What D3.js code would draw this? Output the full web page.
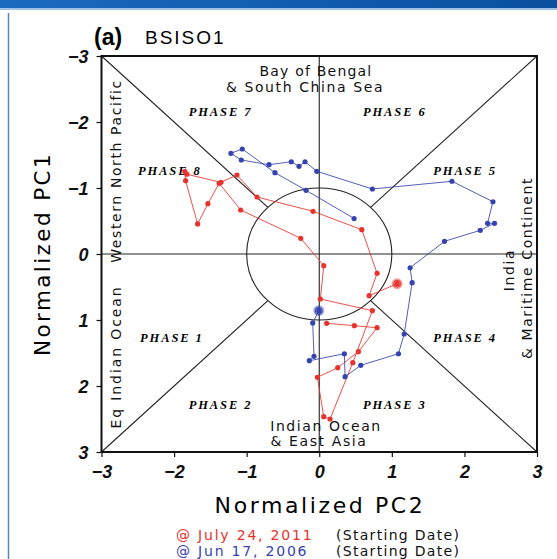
<!DOCTYPE html>
<html><head><meta charset="utf-8">
<script src="https://cdn.jsdelivr.net/npm/d3@7"></script>
<style>
html,body{margin:0;padding:0;background:#fff;overflow:hidden}
svg{display:block}
</style></head>
<body>
<svg id="c" width="557" height="559"></svg>
<script>
// ---- data ----
const tickValues = [-3,-2,-1,0,1,2,3];
// July 24, 2011 trajectory (PC2, PC1)
const redPC2 = [1.073,0.687,0.797,0.586,-0.086,-0.858,-1.134,-1.354,-1.823,-1.851,-1.841,-1.676,-1.534,-1.379,-1.083,-0.255,0.062,0.015,0.732,0.462,0.149,0.062,-0.026,0.255,0.539,0.797,0.484,0.103];
const redPC1 = [0.45,0.632,0.292,-0.368,-0.647,-0.864,-1.197,-1.086,-1.208,-1.247,-1.111,-0.455,-0.762,-1.071,-0.667,-0.238,0.177,0.682,0.859,1.647,2.5,2.465,1.868,1.723,1.48,1.117,1.086,1.05];
// Jun 17, 2006 trajectory (PC2, PC1)
const bluePC2 = [-0.007,-0.09,-0.072,-0.137,0.346,0.356,0.572,1.091,1.17,1.28,1.252,1.726,2.218,2.415,2.319,2.393,1.828,0.732,-0.034,-0.196,-0.279,-0.385,-0.692,-1.074,-1.217,-1.061,-0.61,-0.182,0.48];
const bluePC1 = [0.859,1.045,1.55,1.617,1.511,1.859,1.686,1.511,1.212,0.435,0.208,-0.192,-0.359,-0.465,-0.465,-0.792,-1.102,-0.985,-1.253,-1.398,-1.329,-1.398,-1.353,-1.424,-1.526,-1.591,-1.232,-0.965,-0.538];
const phaseLabels = ["PHASE 1","PHASE 2","PHASE 3","PHASE 4","PHASE 5","PHASE 6","PHASE 7","PHASE 8"];
const phasePos = [[-2.03,1.26],[-1.36,2.28],[1.04,2.28],[2.01,1.26],[2.01,-1.26],[1.04,-2.16],[-1.36,-2.16],[-2.06,-1.26]];
const legendDates = ["@ July 24, 2011","@ Jun 17, 2006"];
const legendColors = ["#e8322b","#3543b0"];

const svg = d3.select("#c");
const x = d3.scaleLinear().domain([-3,3]).range([101.5,537]);
const y = d3.scaleLinear().domain([-3,3]).range([56,452]);
const fmt = d => (d<0 ? "\u2212"+Math.abs(d) : ""+d);

// page decorations (screenshot frame)
const grad = svg.append("defs").append("linearGradient").attr("id","hdr");
grad.append("stop").attr("offset","0").attr("stop-color","#1a6bc0");
grad.append("stop").attr("offset","1").attr("stop-color","#0a4f9e");
svg.append("rect").attr("x",0).attr("y",0).attr("width",557).attr("height",8).attr("fill","url(#hdr)");
svg.append("rect").attr("x",0).attr("y",8).attr("width",557).attr("height",2).attr("fill","#9fc3e8");
svg.append("line").attr("x1",8.5).attr("x2",8.5).attr("y1",13).attr("y2",559).attr("stroke","#5a86c0").attr("stroke-width",1.5);

// title
svg.append("text").attr("x",94).attr("y",45).attr("font-family","Liberation Sans, Arial").attr("font-weight","bold").attr("font-size",23).text("(a)");
svg.append("text").attr("x",145).attr("y",44).attr("font-family","Liberation Sans, Arial").attr("font-size",19).attr("letter-spacing",2).text("BSISO1");

const g = svg.append("g");
// inner lines
const r = Math.SQRT1_2;
const diag = [[-3,-3,-r,-r],[3,-3,r,-r],[-3,3,-r,r],[3,3,r,r]];
g.selectAll("line.d").data(diag).join("line").attr("class","d")
  .attr("x1",d=>x(d[0])).attr("y1",d=>y(d[1])).attr("x2",d=>x(d[2])).attr("y2",d=>y(d[3]))
  .attr("stroke","#222").attr("stroke-width",1.1);
g.append("line").attr("x1",x(0)).attr("x2",x(0)).attr("y1",y(-3)).attr("y2",y(3)).attr("stroke","#222").attr("stroke-width",1.1);
g.append("line").attr("x1",x(-3)).attr("x2",x(3)).attr("y1",y(0)).attr("y2",y(0)).attr("stroke","#222").attr("stroke-width",1.1);
g.append("ellipse").attr("cx",x(0)).attr("cy",y(0)).attr("rx",x(1)-x(0)).attr("ry",y(1)-y(0))
  .attr("fill","none").attr("stroke","#222").attr("stroke-width",1.1);

// phase labels
g.selectAll("text.ph").data(phaseLabels).join("text").attr("class","ph")
  .attr("x",(d,i)=>x(phasePos[i][0])).attr("y",(d,i)=>y(phasePos[i][1])+4.5)
  .attr("text-anchor","middle").attr("font-family","Liberation Serif, Times New Roman")
  .attr("font-style","italic").attr("font-weight","bold").attr("font-size",12.5).attr("letter-spacing",1.9)
  .text(d=>d);

// region labels
const rf = "DejaVu Sans, Liberation Sans";
const reg = (t,px,py,rot,ls) => {
  const tx = g.append("text").attr("font-family",rf).attr("font-size",14).attr("letter-spacing",ls||1.6)
    .attr("text-anchor","middle").attr("fill","#111").text(t);
  if (rot) tx.attr("transform",`translate(${px},${py}) rotate(-90)`);
  else tx.attr("x",px).attr("y",py);
};
reg("Bay of Bengal",316,76,false,1.2);
reg("& South China Sea",305,92);
reg("Indian Ocean",326,431);
reg("& East Asia",319,446);
reg("Eq Indian Ocean",121,357,true,1.9);
reg("Western North Pacific",121,171,true);
reg("India",514,270,true);
reg("& Maritime Continent",532,268,true);

// trajectories
const line = d3.line().x(d=>x(d[0])).y(d=>y(d[1]));
const series = [
  {px:redPC2, py:redPC1, c:legendColors[0]},
  {px:bluePC2, py:bluePC1, c:legendColors[1]}
];
series.forEach(s=>{
  const pts = s.px.map((v,i)=>[v,s.py[i]]);
  g.append("path").attr("d",line(pts)).attr("fill","none").attr("stroke",s.c).attr("stroke-width",1).attr("opacity",0.85);
  g.selectAll(null).data(pts).join("circle").attr("cx",d=>x(d[0])).attr("cy",d=>y(d[1])).attr("r",2.6).attr("fill",s.c);
  g.append("circle").attr("cx",x(pts[0][0])).attr("cy",y(pts[0][1])).attr("r",5.5).attr("fill",s.c).attr("opacity",0.45);
  g.append("circle").attr("cx",x(pts[0][0])).attr("cy",y(pts[0][1])).attr("r",3.5).attr("fill","none").attr("stroke",s.c).attr("stroke-width",1);
});

// frame
g.append("rect").attr("x",x(-3)).attr("y",y(-3)).attr("width",x(3)-x(-3)).attr("height",y(3)-y(-3))
  .attr("fill","none").attr("stroke","#111").attr("stroke-width",2);

// axes
const xa = svg.append("g").attr("transform",`translate(0,${y(3)})`)
  .call(d3.axisBottom(x).tickValues(tickValues).tickSize(5).tickSizeOuter(0).tickPadding(5).tickFormat(fmt));
const ya = svg.append("g").attr("transform",`translate(${x(-3)},0)`)
  .call(d3.axisLeft(y).tickValues(tickValues).tickSize(5).tickSizeOuter(0).tickPadding(8).tickFormat(fmt));
[xa,ya].forEach(a=>{
  a.select(".domain").remove();
  a.selectAll("line").attr("stroke","#111").attr("stroke-width",1.2);
  a.selectAll("text").attr("font-family","Liberation Sans, Arial").attr("font-weight","bold")
    .attr("font-style","italic").attr("font-size",18).attr("fill","#111");
});
xa.selectAll("text").attr("dy","0.9em");
ya.selectAll("text").attr("dy","0.36em");

// axis titles
svg.append("text").attr("x",320).attr("y",513).attr("text-anchor","middle").attr("font-family",rf)
  .attr("font-size",22).attr("letter-spacing",2.6).text("Normalized PC2");
svg.append("text").attr("transform","translate(50,254) rotate(-90)").attr("text-anchor","middle").attr("font-family",rf)
  .attr("font-size",21.5).attr("letter-spacing",2.4).text("Normalized PC1");

// legend
legendDates.forEach((t,i)=>{
  const yy = 540 + i*16;
  svg.append("text").attr("x",176).attr("y",yy).attr("font-family",rf).attr("font-size",14).attr("letter-spacing",1.8)
    .attr("fill",legendColors[i]).text(t);
  svg.append("text").attr("x",336).attr("y",yy).attr("font-family",rf).attr("font-size",14).attr("letter-spacing",1.3)
    .attr("fill","#111").text("(Starting Date)");
});
</script>
</body></html>
